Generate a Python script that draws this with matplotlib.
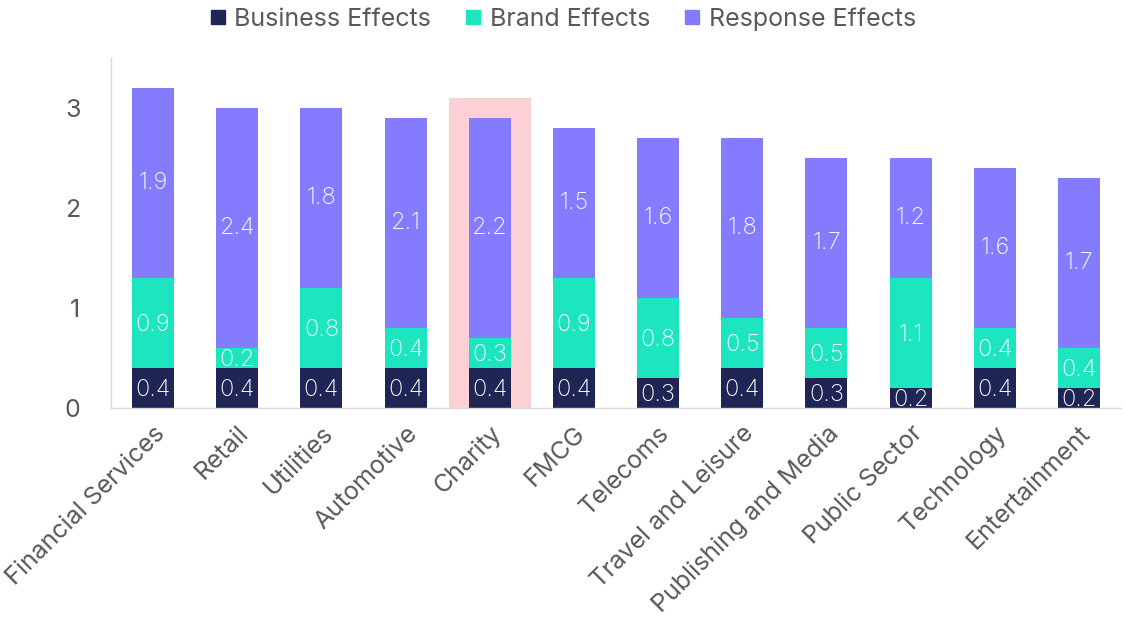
import numpy as np
import matplotlib.pyplot as plt
from matplotlib.patches import Rectangle
from matplotlib.lines import Line2D

plt.rcParams['font.family'] = ['Inter', 'DejaVu Sans']

sectors = ['Financial Services', 'Retail', 'Utilities', 'Automotive', 'Charity', 'FMCG',
           'Telecoms', 'Travel and Leisure', 'Publishing and Media', 'Public Sector',
           'Technology', 'Entertainment']
business = [0.4, 0.4, 0.4, 0.4, 0.4, 0.4, 0.3, 0.4, 0.3, 0.2, 0.4, 0.2]
brand = [0.9, 0.2, 0.8, 0.4, 0.3, 0.9, 0.8, 0.5, 0.5, 1.1, 0.4, 0.4]
response = [1.9, 2.4, 1.8, 2.1, 2.2, 1.5, 1.6, 1.8, 1.7, 1.2, 1.6, 1.7]
highlight = 'Charity'

c_bus = '#1f2555'
c_brand = '#1de5c0'
c_resp = '#857bff'
grey = '#595959'

fig = plt.figure(figsize=(11.26, 6.19), dpi=100)
ax = fig.add_axes([0.0986, 0.341, 0.897, 0.565])

x = np.arange(len(sectors))
b = np.array(business)
br = np.array(brand)
r = np.array(response)

# pink band behind the highlighted sector
hi = sectors.index(highlight)
ax.add_patch(Rectangle((hi - 0.49, 0), 0.98, 3.1, facecolor='#fdd0d6', edgecolor='none', zorder=0))

w = 0.5
ax.bar(x, b, w, color=c_bus, zorder=2)
ax.bar(x, br, w, bottom=b, color=c_brand, zorder=2)
ax.bar(x, r, w, bottom=b + br, color=c_resp, zorder=2)

fs = 17
for i in range(len(sectors)):
    ax.text(x[i], b[i] / 2 - 0.02, f'{b[i]:.1f}', ha='center', va='center', color='white', fontsize=fs, fontweight='light', zorder=3)
    ax.text(x[i], b[i] + br[i] / 2 - 0.02, f'{br[i]:.1f}', ha='center', va='center', color='white', fontsize=fs, fontweight='light', zorder=3)
    ax.text(x[i], b[i] + br[i] + r[i] / 2, f'{r[i]:.1f}', ha='center', va='center', color='white', fontsize=fs, fontweight='light', zorder=3)

ax.set_xlim(-0.5, len(sectors) - 0.5)
ax.set_ylim(0, 3.5)
ax.set_yticks([0, 1, 2, 3])
ax.set_xticks(x)
ax.set_xticklabels(sectors, rotation=45, ha='right', rotation_mode='anchor')
ax.tick_params(axis='both', length=0, labelsize=18, labelcolor=grey)
ax.tick_params(axis='y', pad=22)
ax.tick_params(axis='x', pad=10)
for s in ['top', 'right']:
    ax.spines[s].set_visible(False)
for s in ['left', 'bottom']:
    ax.spines[s].set_color('#d9d9d9')
    ax.spines[s].set_linewidth(1)

handles = [Line2D([], [], marker='s', linestyle='none', markersize=10, color=c)
           for c in [c_bus, c_brand, c_resp]]
fig.legend(handles, ['Business Effects', 'Brand Effects', 'Response Effects'],
           loc='upper center', bbox_to_anchor=(0.5, 1.025), ncol=3, frameon=False,
           fontsize=18, labelcolor=grey, handlelength=0.6, handletextpad=0.35, columnspacing=1.4)

fig.savefig('out.png', dpi=100)
